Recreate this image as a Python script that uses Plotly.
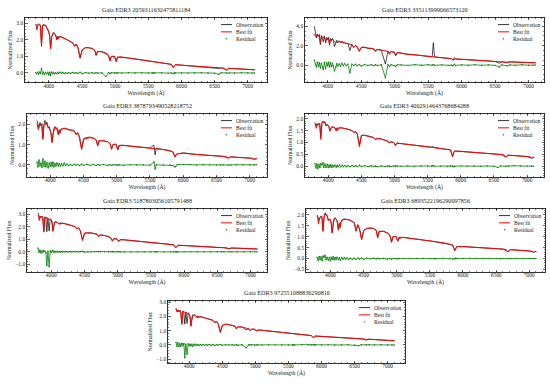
import plotly.graph_objects as go

# ---------------- data ----------------
TITLES = [
    "Gaia EDR3 2059311632475811184",
    "Gaia EDR3 335113999066573120",
    "Gaia EDR3 3878793490528218752",
    "Gaia EDR3 4002914643768684288",
    "Gaia EDR3 5187803056105791488",
    "Gaia EDR3 6893522196290097856",
    "Gaia EDR3 972551088836290816",
]

# wavelength grid of the best-fit model (Angstrom)
WL_FIT = [3800, 3810, 3820, 3832, 3870, 3889, 3905, 3930, 3950, 3970, 3990, 4010,
          4026, 4045, 4070, 4100, 4121, 4133, 4144, 4160, 4200, 4250, 4300,
          4360, 4388, 4410, 4440, 4471, 4505, 4550, 4600, 4650, 4695, 4713, 4730,
          4800, 4861, 4890, 4905, 4922, 4940, 4990, 5016, 5035, 5048, 5065,
          5150, 5300, 5450, 5600, 5750, 5845, 5876, 5905, 6000, 6200, 6400,
          6540, 6563, 6585, 6650, 6678, 6705, 6850, 7000, 7045, 7065, 7085, 7110]

# wavelength grid of the observed spectra and residuals (Angstrom)
WL_OBS = [3800, 3815, 3830, 3845, 3860, 3875, 3889, 3905, 3920, 3934, 3950,
          3968, 3985, 4000, 4013, 4026, 4040, 4055, 4070, 4085, 4100,
          4121, 4135, 4150, 4170, 4190, 4210, 4230, 4250, 4275, 4300,
          4330, 4360, 4388, 4415, 4440, 4471, 4500, 4550, 4600, 4650,
          4690, 4713, 4740, 4800, 4861, 4900, 4922, 4945, 4990, 5016,
          5040, 5100, 5200, 5300, 5400, 5500, 5560, 5577, 5595, 5700,
          5800, 5845, 5876, 5890, 5910, 6000, 6100, 6200, 6300, 6400,
          6500, 6563, 6600, 6678, 6720, 6800, 6900, 7000, 7065, 7100]

# ---- star 1 ----
FIT_1 = [2.92, 2.85, 2.6, 2.88, 2.9, 1.6, 2.85, 2.9, 2.85, 2.7, 2.6, 2.3,
         1.45, 2.2, 2.42, 2.3, 2.05, 2.2, 2.05, 2.2, 2.15, 2.05, 1.95,
         1.82, 1.6, 1.75, 1.5, 0.88, 1.4, 1.52, 1.52, 1.48, 1.35, 1.05, 1.3,
         1.28, 1.2, 1.12, 1.0, 0.72, 1.0, 1.0, 0.68, 0.98, 0.9, 0.98,
         0.93, 0.85, 0.76, 0.67, 0.58, 0.52, 0.32, 0.5, 0.47, 0.40, 0.35,
         0.32, 0.3, 0.31, 0.29, 0.16, 0.28, 0.25, 0.22, 0.21, 0.17, 0.2, 0.19]
OBS_1 = [2.95, 2.88, 2.9, 2.97, 2.92, 2.85, 1.75, 2.88, 2.93, 2.85, 2.88,
         2.72, 2.62, 2.45, 2.2, 1.5, 2.15, 2.35, 2.45, 2.38, 2.3,
         2.0, 2.22, 2.12, 2.22, 2.18, 2.12, 2.1, 2.06, 2.0, 1.96,
         1.9, 1.8, 1.62, 1.74, 1.5, 0.95, 1.38, 1.53, 1.52, 1.48,
         1.38, 1.08, 1.3, 1.28, 1.15, 1.05, 0.75, 1.0, 1.0, 0.7,
         0.96, 0.95, 0.9, 0.85, 0.79, 0.73, 0.7, 0.69, 0.68, 0.61,
         0.55, 0.52, 0.36, 0.45, 0.5, 0.47, 0.44, 0.4, 0.38, 0.35,
         0.33, 0.27, 0.31, 0.18, 0.28, 0.26, 0.24, 0.22, 0.18, 0.19]
RES_1 = [0.02, -0.05, 0.04, -0.08, 0.06, -0.03, 0.28, -0.06, 0.05, -0.1, 0.03,
         -0.07, 0.05, -0.12, 0.04, -0.15, 0.06, -0.04, 0.03, -0.06, 0.02,
         -0.05, 0.04, -0.03, 0.05, -0.02, 0.03, -0.04, 0.02, -0.03, 0.02,
         -0.02, 0.03, -0.02, 0.02, -0.03, 0.05, -0.04, 0.02, -0.01, 0.01,
         -0.02, 0.02, -0.01, 0.01, -0.22, 0.02, -0.03, 0.01, 0.0, -0.02,
         0.01, 0.0, 0.01, -0.01, 0.01, 0.0, 0.01, -0.01, 0.0, 0.01,
         -0.01, 0.0, -0.04, 0.02, 0.0, 0.01, -0.01, 0.0, 0.01, 0.0,
         -0.01, -0.08, 0.01, 0.0, -0.01, 0.0, 0.01, 0.0, -0.01, 0.0]

# ---- star 2 ----
FIT_2 = [3.2, 3.1, 2.9, 3.05, 2.95, 2.3, 2.9, 2.85, 2.8, 2.5, 2.75, 2.65,
         2.2, 2.6, 2.62, 2.45, 2.3, 2.45, 2.3, 2.42, 2.38, 2.28, 2.2,
         2.1, 1.85, 2.0, 1.9, 1.45, 1.85, 1.82, 1.76, 1.7, 1.65, 1.45, 1.62,
         1.55, 1.5, 1.45, 1.4, 1.2, 1.38, 1.35, 1.05, 1.3, 1.25, 1.28,
         1.15, 1.05, 0.93, 0.82, 0.72, 0.66, 0.52, 0.64, 0.6, 0.5, 0.42,
         0.37, 0.33, 0.36, 0.34, 0.29, 0.33, 0.3, 0.26, 0.25, 0.22, 0.24, 0.23]
OBS_2 = [4.0, 3.3, 2.8, 3.2, 2.95, 3.15, 2.1, 3.05, 2.7, 2.4, 3.0,
         2.3, 2.85, 2.6, 2.85, 2.05, 2.75, 2.5, 2.75, 2.55, 1.9,
         2.2, 2.55, 2.3, 2.5, 2.3, 2.48, 2.3, 2.35, 2.2, 2.25,
         1.5, 2.15, 1.8, 2.0, 1.85, 1.4, 1.8, 1.85, 1.72, 1.72,
         1.62, 1.4, 1.6, 1.52, 0.1, 1.45, 1.1, 1.4, 1.3, 0.95,
         1.28, 1.2, 1.1, 1.05, 0.96, 0.88, 0.84, 2.3, 0.82, 0.76,
         0.68, 0.66, 0.5, 0.78, 0.62, 0.6, 0.55, 0.5, 0.46, 0.42,
         0.36, 0.18, 0.35, 0.22, 0.33, 0.31, 0.29, 0.26, 0.21, 0.23]
RES_2 = [0.5, 0.1, -0.2, 0.3, -0.15, 0.25, -0.3, 0.2, -0.25, -0.45, 0.3,
         -0.35, 0.25, -0.1, 0.3, -0.2, 0.25, -0.15, 0.2, -0.1, -0.6,
         -0.2, 0.15, -0.1, 0.12, -0.12, 0.18, -0.08, 0.15, -0.05, 0.1,
         -0.8, 0.1, -0.05, 0.08, -0.06, 0.05, -0.1, 0.06, -0.05, 0.04,
         -0.06, 0.03, -0.05, 0.04, -1.3, 0.04, -0.15, 0.03, -0.04, -0.12,
         0.03, 0.02, -0.03, 0.04, -0.02, 0.03, -0.02, 0.05, -0.02, 0.02,
         -0.03, 0.02, -0.05, 0.1, -0.03, 0.02, -0.02, 0.03, -0.02, 0.02,
         -0.03, -0.2, 0.02, -0.08, 0.02, -0.02, 0.03, -0.02, -0.03, 0.01]

# ---- star 3 ----
FIT_3 = [2.05, 1.95, 1.75, 1.95, 2.0, 1.26, 1.95, 2.05, 2.0, 1.85, 1.8, 1.6,
         1.1, 1.6, 1.85, 1.8, 1.5, 1.7, 1.55, 1.75, 1.8, 1.78, 1.72,
         1.68, 1.5, 1.6, 1.35, 0.77, 1.28, 1.33, 1.35, 1.32, 1.22, 0.93, 1.2,
         1.2, 1.15, 1.08, 1.0, 0.77, 1.0, 1.02, 0.74, 0.98, 0.92, 0.98,
         0.95, 0.9, 0.85, 0.8, 0.74, 0.65, 0.39, 0.55, 0.58, 0.52, 0.47,
         0.44, 0.42, 0.43, 0.41, 0.33, 0.4, 0.37, 0.34, 0.33, 0.27, 0.32, 0.3]
OBS_3 = [2.2, 1.95, 1.85, 2.1, 1.95, 2.05, 1.35, 2.0, 2.2, 2.0, 2.12,
         1.82, 1.9, 1.7, 1.55, 1.15, 1.6, 1.8, 1.9, 1.8, 1.85,
         1.52, 1.75, 1.68, 1.8, 1.76, 1.84, 1.77, 1.8, 1.73, 1.74,
         1.7, 1.7, 1.52, 1.6, 1.38, 0.8, 1.3, 1.36, 1.38, 1.33,
         1.25, 0.95, 1.22, 1.2, 1.15, 1.05, 0.8, 1.02, 1.03, 0.76,
         0.97, 0.97, 0.93, 0.9, 0.87, 0.84, 0.98, 0.5, 0.83, 0.77,
         0.7, 0.64, 0.42, 0.5, 0.55, 0.6, 0.55, 0.52, 0.49, 0.47,
         0.45, 0.42, 0.43, 0.35, 0.4, 0.38, 0.36, 0.34, 0.28, 0.3]
RES_3 = [0.15, -0.1, 0.25, -0.05, 0.1, -0.12, 0.3, -0.08, 0.18, -0.1, 0.12,
         -0.15, 0.1, -0.08, 0.12, -0.06, 0.15, -0.1, 0.08, -0.05, 0.1,
         -0.06, 0.08, -0.05, 0.06, -0.04, 0.1, -0.03, 0.05, -0.04, 0.03,
         -0.03, 0.04, -0.02, 0.03, -0.03, 0.04, -0.02, 0.03, -0.02, 0.02,
         -0.03, 0.02, -0.01, 0.02, -0.02, 0.01, -0.02, 0.01, 0.0, -0.01,
         0.01, -0.01, 0.01, 0.0, 0.01, -0.01, 0.15, -0.2, 0.01, 0.0,
         0.01, -0.03, -0.1, -0.06, 0.02, 0.03, 0.01, 0.0, 0.01, 0.0,
         -0.01, 0.0, 0.01, -0.01, 0.0, 0.01, 0.0, -0.01, 0.0, 0.01]

# ---- star 4 ----
FIT_4 = [1.76, 1.72, 1.6, 1.75, 1.78, 1.13, 1.8, 1.88, 1.85, 1.7, 1.75, 1.68,
         1.5, 1.62, 1.66, 1.62, 1.5, 1.6, 1.52, 1.62, 1.62, 1.6, 1.56,
         1.5, 1.42, 1.46, 1.35, 0.82, 1.3, 1.3, 1.27, 1.25, 1.2, 1.12, 1.18,
         1.15, 1.1, 1.07, 1.05, 0.98, 1.03, 1.0, 0.87, 0.98, 0.96, 0.97,
         0.94, 0.89, 0.84, 0.79, 0.73, 0.69, 0.4, 0.64, 0.63, 0.58, 0.54,
         0.51, 0.5, 0.5, 0.48, 0.38, 0.47, 0.44, 0.41, 0.4, 0.33, 0.39, 0.37]
OBS_4 = [1.85, 1.7, 1.8, 1.72, 1.82, 1.75, 1.25, 1.85, 1.9, 1.82, 1.88,
         1.7, 1.78, 1.72, 1.65, 1.48, 1.6, 1.68, 1.65, 1.64, 1.63,
         1.5, 1.63, 1.58, 1.64, 1.6, 1.63, 1.6, 1.6, 1.58, 1.56,
         1.53, 1.5, 1.43, 1.46, 1.36, 0.9, 1.3, 1.31, 1.28, 1.25,
         1.21, 1.12, 1.17, 1.15, 1.1, 1.06, 0.98, 1.03, 1.0, 0.88,
         0.97, 0.96, 0.92, 0.89, 0.86, 0.82, 0.81, 0.85, 0.8, 0.75,
         0.71, 0.69, 0.42, 0.58, 0.64, 0.63, 0.6, 0.58, 0.56, 0.54,
         0.52, 0.48, 0.5, 0.39, 0.46, 0.45, 0.43, 0.41, 0.34, 0.37]
RES_4 = [0.12, -0.08, 0.1, -0.1, 0.08, -0.05, 0.12, 0.05, 0.15, -0.06, 0.1,
         -0.05, 0.08, -0.06, 0.05, -0.04, 0.06, -0.05, 0.04, -0.03, 0.05,
         -0.04, 0.04, -0.03, 0.05, -0.03, 0.04, -0.02, 0.03, -0.02, 0.02,
         -0.02, 0.03, -0.01, 0.02, -0.02, 0.04, -0.01, 0.02, -0.01, 0.01,
         -0.01, 0.01, -0.02, 0.01, -0.01, 0.01, 0.0, -0.01, 0.01, 0.0,
         0.01, 0.0, 0.01, -0.01, 0.0, 0.01, 0.0, 0.03, 0.0, 0.01,
         -0.01, 0.0, 0.01, -0.02, 0.0, 0.01, 0.0, 0.01, 0.0, 0.01,
         0.0, -0.06, 0.01, 0.0, 0.01, 0.02, 0.01, 0.0, 0.01, 0.0]

# ---- star 5 ----
FIT_5 = [2.92, 2.8, 2.5, 2.8, 2.75, 1.57, 2.75, 2.7, 2.68, 2.55, 2.6, 2.4,
         1.62, 2.3, 2.38, 2.33, 2.2, 2.3, 2.2, 2.28, 2.25, 2.18, 2.1,
         2.0, 1.82, 1.92, 1.65, 0.9, 1.5, 1.52, 1.5, 1.46, 1.38, 1.2, 1.35,
         1.3, 1.22, 1.15, 1.05, 0.85, 1.05, 1.02, 0.8, 0.98, 0.93, 0.97,
         0.93, 0.86, 0.79, 0.71, 0.62, 0.56, 0.32, 0.52, 0.5, 0.43, 0.37,
         0.34, 0.33, 0.33, 0.31, 0.23, 0.3, 0.28, 0.25, 0.24, 0.2, 0.23, 0.22]
OBS_5 = [3.1, 2.85, 2.7, 2.85, 2.78, 2.8, 1.65, 2.8, 2.72, 1.6, 2.7,
         1.65, 2.62, 2.55, 2.35, 1.7, 2.25, 2.4, 2.4, 2.35, 2.3,
         2.2, 2.32, 2.25, 2.3, 2.26, 2.25, 2.2, 2.18, 2.13, 2.1,
         2.05, 2.0, 1.84, 1.9, 1.66, 0.95, 1.48, 1.52, 1.5, 1.46,
         1.4, 1.22, 1.34, 1.3, 1.22, 1.1, 0.87, 1.04, 1.02, 0.82,
         0.97, 0.95, 0.9, 0.86, 0.81, 0.76, 0.73, 0.72, 0.71, 0.65,
         0.59, 0.56, 0.34, 0.45, 0.52, 0.5, 0.46, 0.43, 0.4, 0.37,
         0.35, 0.33, 0.33, 0.24, 0.3, 0.29, 0.27, 0.25, 0.21, 0.22]
RES_5 = [0.3, -0.05, 0.15, -0.1, 0.08, -0.05, 0.1, 0.05, -0.08, -1.1, 0.05,
         -1.2, 0.08, -0.06, 0.05, 0.1, -0.05, 0.04, -0.03, 0.05, -0.03,
         0.02, -0.04, 0.03, -0.02, 0.03, -0.01, 0.02, -0.02, 0.02, -0.01,
         0.02, -0.01, 0.02, -0.01, 0.02, 0.04, -0.02, 0.01, -0.01, 0.01,
         0.02, 0.01, -0.01, 0.01, 0.0, 0.01, 0.02, -0.01, 0.0, 0.01,
         0.0, -0.01, 0.0, 0.01, 0.0, 0.0, 0.01, 0.0, 0.0, -0.01,
         0.0, 0.0, 0.02, 0.0, 0.0, 0.0, 0.01, 0.0, 0.0, 0.0,
         0.0, 0.0, 0.0, 0.01, 0.0, 0.0, 0.0, 0.0, 0.01, 0.0]

# ---- star 6 ----
FIT_6 = [1.95, 1.85, 1.6, 1.85, 1.95, 1.24, 1.9, 2.05, 1.98, 1.75, 1.82, 1.7,
         1.17, 1.7, 1.85, 1.75, 1.3, 1.6, 1.4, 1.7, 1.8, 1.8, 1.75,
         1.65, 1.25, 1.55, 1.35, 0.86, 1.3, 1.38, 1.4, 1.38, 1.28, 0.94, 1.25,
         1.25, 1.18, 1.1, 1.0, 0.74, 1.0, 1.02, 0.79, 0.98, 0.9, 0.98,
         0.95, 0.9, 0.83, 0.77, 0.7, 0.62, 0.36, 0.55, 0.55, 0.51, 0.47,
         0.45, 0.44, 0.44, 0.42, 0.3, 0.41, 0.38, 0.35, 0.34, 0.28, 0.33, 0.32]
OBS_6 = [2.0, 1.8, 1.75, 1.9, 1.95, 1.85, 1.3, 1.95, 2.1, 2.0, 1.95,
         1.75, 1.82, 1.75, 1.6, 1.2, 1.65, 1.82, 1.88, 1.8, 1.75,
         1.32, 1.62, 1.5, 1.76, 1.8, 1.82, 1.8, 1.8, 1.78, 1.75,
         1.7, 1.65, 1.28, 1.55, 1.36, 0.9, 1.28, 1.38, 1.4, 1.38,
         1.3, 0.96, 1.24, 1.25, 1.17, 1.05, 0.76, 1.0, 1.02, 0.81,
         0.97, 0.97, 0.93, 0.9, 0.86, 0.81, 0.78, 0.77, 0.77, 0.72,
         0.67, 0.62, 0.38, 0.45, 0.55, 0.55, 0.53, 0.51, 0.49, 0.47,
         0.45, 0.43, 0.44, 0.31, 0.41, 0.39, 0.37, 0.35, 0.29, 0.32]
RES_6 = [0.05, -0.08, 0.1, -0.05, 0.08, -0.1, 0.12, 0.05, 0.15, -0.05, 0.06,
         -0.08, 0.05, -0.1, 0.06, -0.05, 0.08, -0.06, 0.05, -0.04, 0.06,
         -0.05, 0.04, -0.08, 0.05, -0.03, 0.04, -0.02, 0.03, -0.03, 0.02,
         -0.03, 0.02, -0.04, 0.03, -0.02, 0.03, -0.03, 0.02, -0.01, 0.02,
         -0.02, 0.02, -0.01, 0.01, -0.02, 0.01, -0.03, 0.01, 0.0, -0.02,
         0.01, 0.0, 0.01, 0.0, 0.01, 0.0, 0.01, -0.02, 0.0, 0.01,
         0.0, -0.01, -0.02, 0.02, 0.0, 0.01, 0.0, 0.01, 0.0, 0.0,
         0.0, -0.01, 0.0, 0.0, 0.0, 0.01, 0.0, 0.0, 0.0, 0.0]

# ---- star 7 ----
FIT_7 = [2.5, 2.42, 2.3, 2.4, 2.38, 1.43, 2.35, 2.3, 2.28, 2.2, 2.22, 2.05,
         1.3, 1.95, 2.1, 2.05, 1.9, 2.0, 1.9, 1.98, 1.95, 1.88, 1.8,
         1.72, 1.55, 1.65, 1.45, 0.87, 1.38, 1.45, 1.42, 1.38, 1.3, 1.12, 1.27,
         1.25, 1.2, 1.16, 1.12, 1.0, 1.1, 1.1, 0.95, 1.06, 1.03, 1.05,
         1.0, 0.92, 0.84, 0.77, 0.7, 0.65, 0.5, 0.62, 0.6, 0.53, 0.47,
         0.44, 0.43, 0.43, 0.41, 0.34, 0.4, 0.36, 0.33, 0.32, 0.27, 0.31, 0.29]
OBS_7 = [2.58, 2.35, 2.45, 2.3, 2.42, 2.3, 1.5, 2.38, 2.25, 1.45, 2.3,
         1.5, 2.25, 2.15, 2.0, 1.35, 1.95, 2.12, 2.05, 2.1, 2.0,
         1.9, 2.02, 1.95, 1.98, 1.95, 1.97, 1.92, 1.9, 1.84, 1.82,
         1.76, 1.72, 1.56, 1.65, 1.46, 0.9, 1.37, 1.46, 1.42, 1.38,
         1.32, 1.13, 1.26, 1.25, 1.05, 1.14, 1.0, 1.1, 1.1, 0.96,
         1.05, 1.02, 0.97, 0.92, 0.87, 0.82, 0.79, 0.78, 0.79, 0.76,
         0.7, 0.66, 0.52, 0.58, 0.62, 0.6, 0.57, 0.53, 0.5, 0.47,
         0.45, 0.4, 0.43, 0.35, 0.4, 0.38, 0.36, 0.33, 0.28, 0.29]
RES_7 = [0.2, -0.1, 0.15, -0.12, 0.08, -0.1, 0.12, -0.05, 0.1, -0.9, 0.05,
         -0.65, 0.08, -0.05, 0.06, -0.08, 0.05, -0.1, 0.06, -0.04, 0.05,
         -0.03, 0.04, -0.04, 0.03, -0.02, 0.04, -0.03, 0.02, -0.02, 0.03,
         -0.02, 0.02, -0.03, 0.02, -0.01, 0.03, -0.02, 0.01, -0.01, 0.02,
         -0.01, 0.01, -0.02, 0.01, -0.2, 0.01, -0.01, 0.01, 0.0, -0.01,
         0.01, 0.0, 0.01, 0.0, 0.01, 0.0, 0.01, 0.0, 0.0, 0.02,
         0.01, 0.0, 0.01, 0.0, 0.01, 0.0, 0.01, 0.0, 0.0, 0.01,
         0.0, -0.05, 0.01, 0.0, 0.01, 0.0, 0.01, 0.0, 0.0, 0.0]

FITS = [FIT_1, FIT_2, FIT_3, FIT_4, FIT_5, FIT_6, FIT_7]
OBSS = [OBS_1, OBS_2, OBS_3, OBS_4, OBS_5, OBS_6, OBS_7]
RESS = [RES_1, RES_2, RES_3, RES_4, RES_5, RES_6, RES_7]

for arr in FITS:
    assert len(arr) == len(WL_FIT), len(arr)
for arr in OBSS + RESS:
    assert len(arr) == len(WL_OBS), len(arr)

X_TICKS = [4000, 4500, 5000, 5500, 6000, 6500, 7000]
LEGEND_LABELS = ["Observation", "Best fit", "Residual"]

# ---------------- layout (pixel geometry) ----------------
W, H = 550, 385
# frame boxes (x0, x1, y0, y1) in pixels from top-left
BOXES = [
    (25, 267, 15.5, 81),
    (305, 544, 15.5, 81),
    (27, 267, 112, 176),
    (305, 544, 112, 176),
    (27, 267, 207.5, 271.5),
    (306, 545, 207.5, 271.5),
    (168, 405, 300, 363),
]
XRANGES = [(3640, 7290), (3660, 7230), (3650, 7260), (3650, 7256),
           (3635, 7250), (3632, 7237), (3680, 7262)]
YRANGES = [(-0.58, 3.35), (-1.8, 4.9), (-0.6, 2.55), (-0.46, 2.23),
           (-1.62, 3.46), (-0.62, 2.3), (-1.27, 3.11)]
YDTICK = [1.0, 2.0, 1.0, 0.5, 1.0, 0.5, 1.0]
YMINOR = [0.2, 0.5, 0.2, 0.1, 0.2, 0.1, 0.2]

FONT = "Liberation Serif"
TXT = "#222222"
C_OBS, C_FIT, C_RES = "#000000", "#ff0000", "#008000"

fig = go.Figure()
annotations = []
shapes = []

for i in range(7):
    n = "" if i == 0 else str(i + 1)
    xa, ya = "x" + n, "y" + n
    x0, x1, y0, y1 = BOXES[i]
    pw, ph = x1 - x0, y1 - y0

    fig.add_trace(go.Scatter(x=WL_OBS, y=OBSS[i], mode="lines",
                             line=dict(color=C_OBS, width=0.7),
                             xaxis=xa, yaxis=ya, showlegend=False,
                             name=LEGEND_LABELS[0]))
    fig.add_trace(go.Scatter(x=WL_FIT, y=FITS[i], mode="lines",
                             line=dict(color=C_FIT, width=1.0),
                             xaxis=xa, yaxis=ya, showlegend=False,
                             name=LEGEND_LABELS[1]))
    fig.add_trace(go.Scatter(x=WL_OBS, y=RESS[i], mode="lines+markers",
                             line=dict(color=C_RES, width=0.8),
                             marker=dict(color=C_RES, size=1.4),
                             xaxis=xa, yaxis=ya, showlegend=False,
                             name=LEGEND_LABELS[2]))

    common = dict(showline=True, linecolor="black", linewidth=0.8,
                  mirror="allticks", ticks="inside", ticklen=2.5,
                  tickwidth=0.6, tickcolor="black", showgrid=False,
                  zeroline=False,
                  tickfont=dict(family=FONT, size=5.4, color=TXT))
    xkey = "xaxis" + n
    ykey = "yaxis" + n
    fig.update_layout({
        xkey: dict(common,
                   domain=[x0 / W, x1 / W], anchor=ya,
                   range=list(XRANGES[i]), tickmode="array",
                   tickvals=X_TICKS, ticktext=[str(v) for v in X_TICKS],
                   ticklabelstandoff=-2,
                   minor=dict(dtick=100, tick0=4000, ticks="inside",
                              ticklen=1.4, tickwidth=0.5, tickcolor="black"),
                   title=dict(text="Wavelength (Å)", standoff=0,
                              font=dict(family=FONT, size=5.8, color=TXT))),
        ykey: dict(common,
                   domain=[1 - y1 / H, 1 - y0 / H], anchor=xa,
                   range=list(YRANGES[i]), dtick=YDTICK[i], tick0=0,
                   tickformat=".1f",
                   minor=dict(dtick=YMINOR[i], tick0=0, ticks="inside",
                              ticklen=1.4, tickwidth=0.5, tickcolor="black"),
                   title=dict(text="Normalized Flux", standoff=3,
                              font=dict(family=FONT, size=5.8, color=TXT))),
    })

    # title
    annotations.append(dict(text=TITLES[i], xref=xa + " domain", yref=ya + " domain",
                            x=0.5, y=1, xanchor="center", yanchor="bottom",
                            yshift=2, showarrow=False,
                            font=dict(family=FONT, size=6.2, color=TXT)))
    # legend (no frame)
    offs = [7.2, 14.5, 21.5]
    colors = [C_OBS, C_FIT, C_RES]
    lx0 = 1 - 46 / pw
    lx1 = 1 - 35 / pw
    for k in range(3):
        yy = 1 - offs[k] / ph
        if k < 2:
            shapes.append(dict(type="line", xref=xa + " domain", yref=ya + " domain",
                               x0=lx0, x1=lx1, y0=yy, y1=yy,
                               line=dict(color=colors[k], width=1.0 if k == 1 else 0.8)))
        else:
            cx = (lx0 + lx1) / 2
            rx = 0.7 / pw
            ry = 0.7 / ph
            shapes.append(dict(type="circle", xref=xa + " domain", yref=ya + " domain",
                               x0=cx - rx, x1=cx + rx, y0=yy - ry, y1=yy + ry,
                               fillcolor=C_RES, line=dict(color=C_RES, width=0)))
        annotations.append(dict(text=LEGEND_LABELS[k], xref=xa + " domain",
                                yref=ya + " domain", x=1 - 33 / pw, y=yy,
                                xanchor="left", yanchor="middle", showarrow=False,
                                font=dict(family=FONT, size=5.6, color=TXT)))

fig.update_layout(
    width=W, height=H,
    margin=dict(l=0, r=0, t=0, b=0),
    paper_bgcolor="white", plot_bgcolor="white",
    showlegend=False,
    annotations=annotations, shapes=shapes,
    font=dict(family=FONT, color=TXT),
)

fig.write_html("out.html",
               config={"displayModeBar": False, "staticPlot": True},
               post_script="document.body.style.margin='0px';"
                           "document.body.style.padding='0px';")
